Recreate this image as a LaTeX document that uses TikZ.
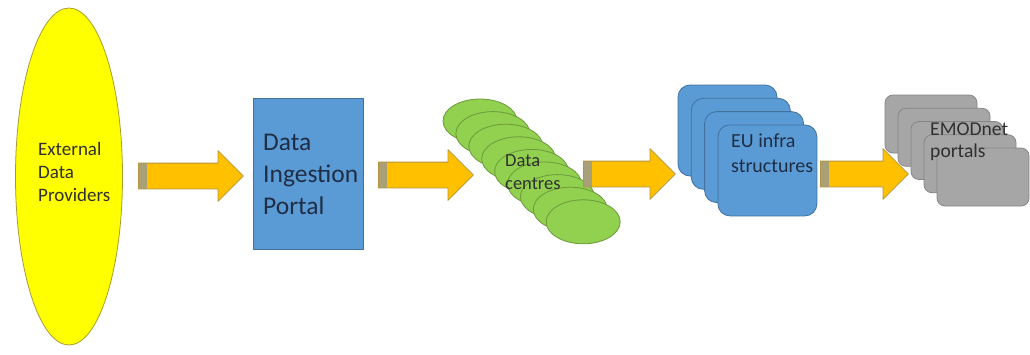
\documentclass[tikz,border=0pt]{standalone}
\usepackage{fontspec}
\setmainfont{Carlito}
\usetikzlibrary{shapes.geometric,shapes.arrows}
\definecolor{provfill}{HTML}{FFFF00}
\definecolor{provline}{HTML}{A89C34}
\definecolor{bluefill}{HTML}{5B9BD5}
\definecolor{blueline}{HTML}{41719C}
\definecolor{greenfill}{HTML}{92D050}
\definecolor{greenline}{HTML}{6B9A3A}
\definecolor{grayfill}{HTML}{A6A6A6}
\definecolor{grayline}{HTML}{858585}
\definecolor{arrowfill}{HTML}{FFC000}
\definecolor{arrowline}{HTML}{B39440}
\definecolor{tailfill}{HTML}{A9A077}
\definecolor{darktext}{HTML}{303030}
\definecolor{navytext}{HTML}{1F2D45}
\tikzset{
  fatarrow/.style={single arrow, draw=arrowline, fill=arrowfill, line width=0.8pt,
    inner xsep=0pt, inner ysep=12.5pt, single arrow head extend=12.5pt, anchor=tail,
    path picture={\fill[tailfill] (path picture bounding box.south west) rectangle ([xshift=9pt]path picture bounding box.north west);}},
  centre/.style={ellipse, draw=greenline, fill=greenfill, line width=0.8pt,
    minimum width=74pt, minimum height=44pt, inner sep=0pt},
  infra/.style={rectangle, rounded corners=12pt, draw=blueline, fill=bluefill, line width=0.8pt,
    minimum width=99pt, minimum height=91pt, inner sep=0pt},
  portal/.style={rectangle, rounded corners=8pt, draw=grayline, fill=grayfill, line width=0.8pt,
    minimum width=92pt, minimum height=58pt, inner sep=0pt},
  label/.style={align=left, anchor=west, inner sep=0pt, text=darktext}
}
\begin{document}
\begin{tikzpicture}[x=1pt,y=-1pt,line join=round]
\useasboundingbox[fill=white] (0,0) rectangle (1030,354);
% external providers
\node[ellipse, draw=provline, fill=provfill, line width=0.8pt, minimum width=107pt, minimum height=337pt, inner sep=0pt] (providers) at (69,176.5) {};
\node[label, font=\fontsize{19}{23}\selectfont] (providerstext) at (38,172) {External\\Data\\Providers};
% ingestion portal
\node[rectangle, draw=blueline, fill=bluefill, line width=0.8pt, minimum width=110pt, minimum height=151pt, inner sep=0pt] (ingest) at (308,173.5) {};
\node[label, text=navytext, font=\fontsize{25.5}{32}\selectfont] (ingesttext) at (263,174) {Data\\Ingestion\\Portal};
% data centres
\foreach \i in {0,...,8}
  \node[centre] (centre\i) at (480+12.9*\i,121+12.6*\i) {};
\node[label, font=\fontsize{18.5}{23}\selectfont] (centretext) at (505,172.5) {Data\\centres};
% EU infrastructures
\foreach \i in {0,...,3}
  \node[infra] (infra\i) at (727.5+13.3*\i,130.5+13.3*\i) {};
\node[label, text=navytext, font=\fontsize{20}{25}\selectfont] (infratext) at (731,153.5) {EU infra\\structures};
% EMODnet portals
\foreach \i in {0,...,4}
  \node[portal] (portal\i) at (931+13*\i,124+13.25*\i) {};
\node[label, font=\fontsize{19.6}{22}\selectfont] (portaltext) at (930,142) {EMODnet\\portals};
% arrows
\node[fatarrow, minimum height=105pt] (arrow1) at (138,176) {};
\node[fatarrow, minimum height=95pt] (arrow2) at (378,175) {};
\node[fatarrow, minimum height=92pt] (arrow3) at (583,174) {};
\node[fatarrow, minimum height=88pt] (arrow4) at (820,174) {};
\end{tikzpicture}
\end{document}
